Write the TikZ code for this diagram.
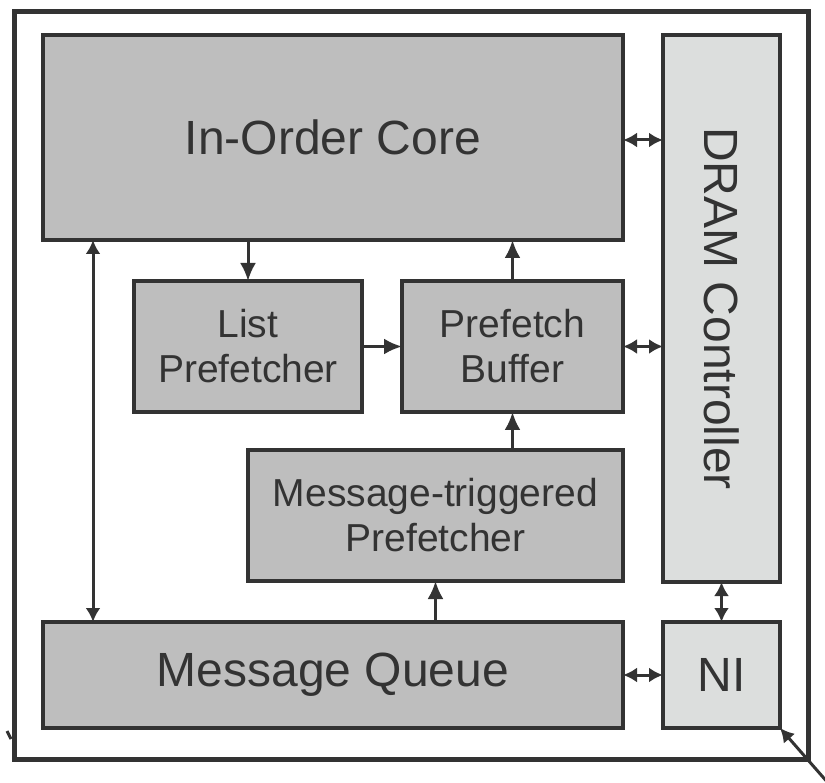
\documentclass[tikz,border=0pt]{standalone}
\usepackage{fontspec}
\setmainfont{Liberation Sans}
\usetikzlibrary{arrows.meta,calc}
\definecolor{ink}{HTML}{333333}
\definecolor{darkfill}{HTML}{BEBEBE}
\definecolor{lightfill}{HTML}{DCDEDD}
\tikzset{
  unitbox/.style={draw=ink, line width=4.5pt, inner sep=0pt, outer sep=0pt, text=ink, align=center},
  darkbox/.style={unitbox, fill=darkfill},
  lightbox/.style={unitbox, fill=lightfill},
  bigtext/.style={font=\fontsize{48}{52}\selectfont},
  midtext/.style={font=\fontsize{39}{45}\selectfont},
  flow/.style={draw=ink, line width=3pt, -{Latex[length=18pt,width=16pt]}},
  link/.style={draw=ink, line width=3pt, {Latex[length=14pt,width=15pt]}-{Latex[length=14pt,width=15pt]}}
}
\begin{document}
\begin{tikzpicture}[x=1pt,y=-1pt]
  \useasboundingbox (0,0) rectangle (825,783);
  \fill[white] (0,0) rectangle (825,783);

  % chip outline
  \draw[ink, line width=5pt] (14,12) rectangle (808,759);

  % functional units
  \node[darkbox, bigtext, minimum width=580pt, minimum height=205pt] (core) at (333,137.5) {In-Order Core};
  \node[lightbox, minimum width=117pt, minimum height=547pt] (dram) at (721.5,308.5)
    {\rotatebox{-90}{\fontsize{48}{52}\selectfont DRAM Controller}};
  \node[darkbox, midtext, minimum width=228pt, minimum height=131pt] (list) at (248,346.5) {List\\Prefetcher};
  \node[darkbox, midtext, minimum width=221pt, minimum height=131pt] (buffer) at (512.5,346.5) {Prefetch\\Buffer};
  \node[darkbox, midtext, minimum width=375pt, minimum height=131pt] (mtp) at (435.5,515.5) {Message-triggered\\Prefetcher};
  \node[darkbox, bigtext, minimum width=580pt, minimum height=106pt] (mq) at (333,675) {Message Queue};
  \node[lightbox, bigtext, minimum width=117pt, minimum height=106pt] (ni) at (721.5,675) {NI};

  % data paths
  \coordinate (lane) at (93,0);
  \draw[link] (core.east |- 0,140) -- (dram.west |- 0,140);
  \draw[flow] (core.south -| list.north) -- (list.north);
  \draw[flow] (list.east) -- (buffer.west);
  \draw[flow] (buffer.north) -- (buffer.north |- core.south);
  \draw[link] (buffer.east) -- (buffer.east -| dram.west);
  \draw[flow] (mtp.north -| buffer.south) -- (buffer.south);
  \draw[flow] (mq.north -| mtp.south) -- (mtp.south);
  \draw[link] (lane |- core.south) -- (lane |- mq.north);
  \draw[link] (mq.east) -- (ni.west);
  \draw[link] (dram.south) -- (ni.north);
  \draw[draw=ink, line width=3pt, {Latex[length=14pt,width=15pt]}-] (ni.south east) -- (836,792);
  \draw[draw=ink, line width=3pt] (7,731) -- (11,739);
\end{tikzpicture}
\end{document}
